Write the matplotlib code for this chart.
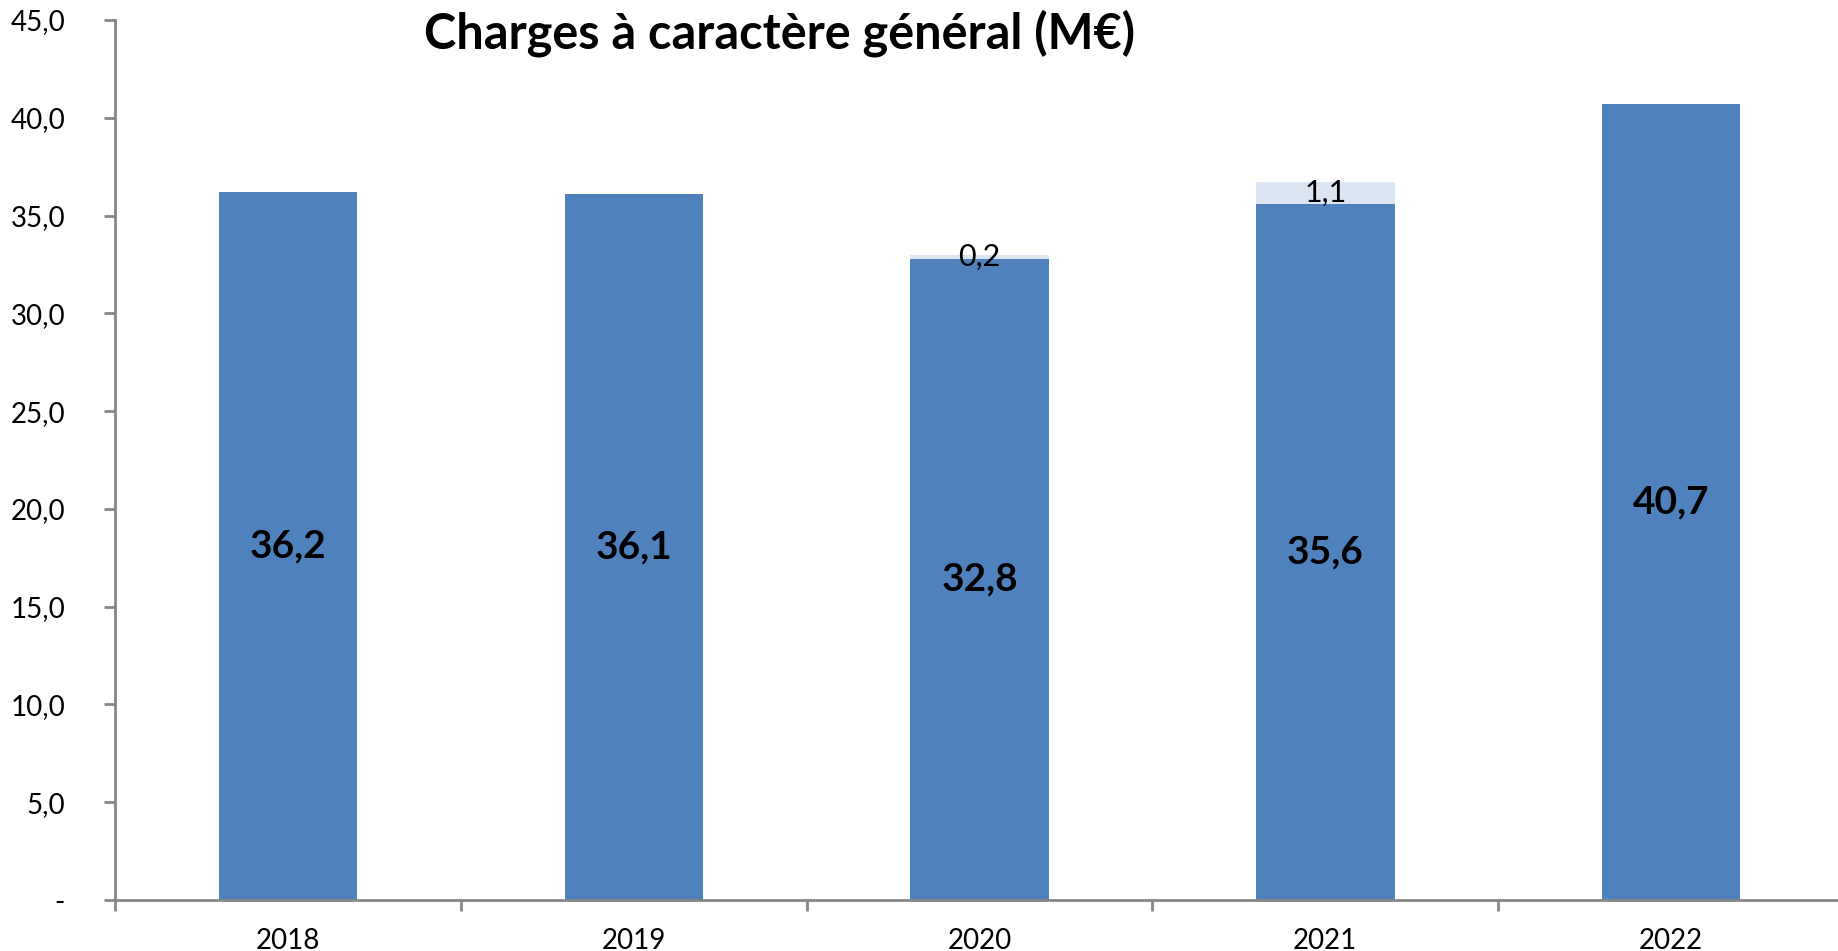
import matplotlib
matplotlib.use("Agg")
from matplotlib import pyplot as plt
from matplotlib.ticker import FuncFormatter
import numpy as np

years = ['2018', '2019', '2020', '2021', '2022']
base = [36.2, 36.1, 32.8, 35.6, 40.7]
extra = [0.0, 0.0, 0.2, 1.1, 0.0]

plt.rcParams['font.family'] = ['Lato', 'DejaVu Sans']

def fr(v):
  return ('%.1f' % v).replace('.', ',')

def ytick(v, pos):
  return '-' if abs(v) < 1e-9 else fr(v)

def main():
  fig = plt.figure(figsize=(18.38, 9.51), dpi=100)
  ax = fig.add_axes([0.0626, 0.0536, 0.9407, 0.9254])
  x = np.arange(len(years))
  main_bars = ax.bar(x, base, width=0.4, color='#4F81BD', zorder=2)
  top_bars = ax.bar(x, extra, width=0.4, bottom=base, color='#DCE6F2', zorder=2)

  for b, v in zip(main_bars, base):
    ax.text(b.get_x() + b.get_width() / 2, v / 2, fr(v), ha='center',
            va='center', fontsize=28, fontweight='bold', color='black')
  for b, v, e in zip(top_bars, base, extra):
    if e > 0:
      ax.text(b.get_x() + b.get_width() / 2, v + e / 2, fr(e), ha='center',
              va='center', fontsize=22, color='black', zorder=3)

  ax.set_ylim(0, 45)
  ax.set_xlim(-0.5, 4.5)
  ax.set_yticks(np.arange(0, 46, 5))
  ax.yaxis.set_major_formatter(FuncFormatter(ytick))
  ax.set_xticks(np.arange(-0.5, 5, 1))
  ax.set_xticklabels([])
  ax.set_xticks(x, minor=True)
  ax.set_xticklabels(years, minor=True)

  for s in ['top', 'right']:
    ax.spines[s].set_visible(False)
  for s in ['left', 'bottom']:
    ax.spines[s].set_color('#868686')
    ax.spines[s].set_linewidth(2)
  ax.tick_params(axis='y', which='major', length=8, width=2, color='#868686',
                 labelsize=20, pad=28)
  ax.tick_params(axis='x', which='major', length=8, width=2, color='#868686')
  ax.tick_params(axis='x', which='minor', length=0, labelsize=20, pad=20)

  fig.text(0.424, 0.965, 'Charges à caractère général (M€)', ha='center',
           va='center', fontsize=35, fontweight='bold')
  fig.savefig('out.png', dpi=100)

if __name__ == "__main__":
  main()
